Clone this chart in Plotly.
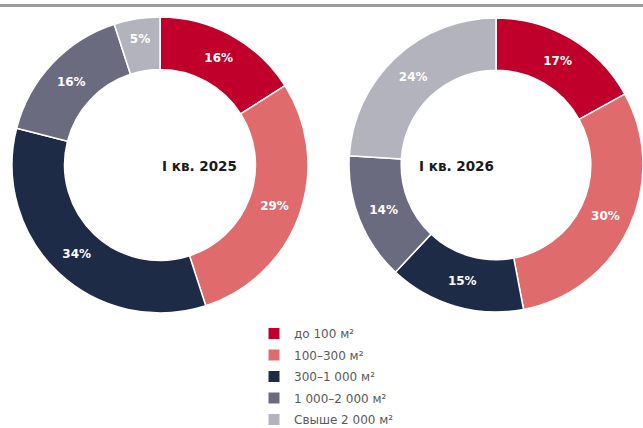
"""Donut charts: structure of deals by area, Q1 2025 vs Q1 2026."""

import plotly.graph_objects as go

labels = [
    "до 100 м²",
    "100–300 м²",
    "300–1 000 м²",
    "1 000–2 000 м²",
    "Свыше 2 000 м²",
]
share_2025 = [16, 29, 34, 16, 5]
share_2026 = [17, 30, 15, 14, 24]
titles = ["I кв. 2025", "I кв. 2026"]

colors = ["#C0002A", "#E06B6D", "#1E2B47", "#6B6B80", "#B3B3BE"]

W, H = 643, 428

fig = go.Figure()


def add_donut(values, x0, x1, y0, y1):
    fig.add_trace(
        go.Pie(
            labels=labels,
            values=values,
            text=[str(v) + "%" for v in values],
            textinfo="text",
            textposition="inside",
            insidetextorientation="horizontal",
            textfont=dict(family="DejaVu Sans", size=12, color="white", weight="bold"),
            hole=0.645,
            sort=False,
            direction="clockwise",
            rotation=0,
            marker=dict(colors=colors, line=dict(color="white", width=1.5)),
            domain=dict(x=[x0 / W, x1 / W], y=[1 - y1 / H, 1 - y0 / H]),
            showlegend=False,
            hoverinfo="label+percent",
        )
    )


add_donut(share_2025, 11, 309, 17, 313)
add_donut(share_2026, 349, 643, 17, 313)

# legend entries (one group each so the rows can be spaced out a bit)
for i, (lab, col) in enumerate(zip(labels, colors)):
    fig.add_trace(
        go.Scatter(
            x=[None],
            y=[None],
            mode="markers",
            name=lab,
            legendgroup="g" + str(i),
            marker=dict(symbol="square", size=11, color=col),
            hoverinfo="skip",
        )
    )

# centre labels
for cx, title in zip([160, 496], titles):
    fig.add_annotation(
        x=cx / W,
        y=1 - 166 / H,
        xref="paper",
        yref="paper",
        text=title,
        showarrow=False,
        font=dict(family="DejaVu Sans", size=13.5, color="#1a1a1a", weight="bold"),
    )

# grey rule at the top
fig.add_shape(
    type="line",
    xref="paper",
    yref="paper",
    x0=0,
    x1=1,
    y0=1 - 5.5 / H,
    y1=1 - 5.5 / H,
    line=dict(color="#9a9a9a", width=3),
)

fig.update_layout(
    width=W,
    height=H,
    margin=dict(l=0, r=0, t=0, b=0, autoexpand=False),
    paper_bgcolor="white",
    plot_bgcolor="white",
    xaxis=dict(visible=False),
    yaxis=dict(visible=False),
    legend=dict(
        x=254 / W,
        y=1 - 319 / H,
        xanchor="left",
        yanchor="top",
        tracegroupgap=2.5,
        font=dict(family="DejaVu Sans", size=12, color="#5a5a5a"),
        bgcolor="rgba(0,0,0,0)",
    ),
    showlegend=True,
)

# page body has an 8px default margin; drop it so the figure sits at 0,0
fig.write_html(
    "out.html",
    config={"displayModeBar": False},
    post_script="document.body.style.margin='0';",
)
